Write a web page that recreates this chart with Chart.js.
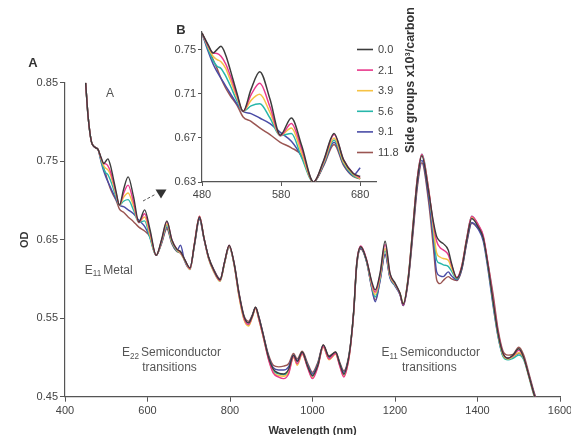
<!DOCTYPE html>
<html>
<head>
<meta charset="utf-8">
<script src="https://cdn.jsdelivr.net/npm/chart.js@4.4.1/dist/chart.umd.min.js"></script>
<style>
  html, body { margin: 0; padding: 0; background: #ffffff; }
  #wrap { position: relative; width: 571px; height: 435px; overflow: hidden; background: #fff; }
  #wrap canvas { position: absolute; left: 0; top: 0; }
</style>
</head>
<body>
<div id="wrap">
  <canvas id="main" width="571" height="435"></canvas>
  <canvas id="inset" width="571" height="435"></canvas>
</div>
<script>
// ---------------- DATA ----------------
const wavelengths = [
  450, 456, 464, 472, 480, 488, 494, 499, 504, 510,
  516, 524, 532, 542, 553, 566, 579, 593, 606, 621,
  634, 647, 659, 671, 680, 690, 703, 714, 726, 737,
  748, 760, 776, 787, 798, 810, 822, 834, 845, 854,
  862, 870, 880, 893, 905, 918, 930, 942, 954, 963,
  975, 988, 1000, 1013, 1026, 1040, 1056, 1066, 1076, 1086,
  1093, 1100, 1107, 1117, 1131, 1144, 1152, 1164, 1176, 1188,
  1200, 1212, 1220, 1232, 1244, 1254, 1265, 1281, 1293, 1301,
  1309, 1317, 1329, 1337, 1350, 1362, 1374, 1386, 1402, 1414,
  1426, 1438, 1450, 1462, 1474, 1486, 1500, 1512, 1524, 1536,
  1545
];

const seriesLabels = ['0.0', '2.1', '3.9', '5.6', '9.1', '11.8'];

const od_0_0 = [
  0.850, 0.807, 0.775, 0.768, 0.765, 0.754, 0.747, 0.750, 0.753, 0.745,
  0.731, 0.711, 0.694, 0.714, 0.730, 0.705, 0.6725, 0.688, 0.663, 0.630,
  0.650, 0.674, 0.650, 0.638, 0.635, 0.625, 0.614, 0.645, 0.679, 0.652,
  0.628, 0.612, 0.599, 0.622, 0.643, 0.620, 0.581, 0.552, 0.544, 0.553,
  0.564, 0.551, 0.530, 0.501, 0.485, 0.480, 0.479, 0.485, 0.503, 0.495,
  0.507, 0.489, 0.477, 0.490, 0.516, 0.501, 0.507, 0.492, 0.479, 0.495,
  0.520, 0.560, 0.618, 0.641, 0.624, 0.596, 0.586, 0.608, 0.648, 0.607,
  0.595, 0.582, 0.568, 0.600, 0.668, 0.725, 0.757, 0.713, 0.673, 0.654,
  0.648, 0.645, 0.637, 0.620, 0.601, 0.615, 0.650, 0.677, 0.666, 0.652,
  0.615, 0.571, 0.530, 0.505, 0.499, 0.503, 0.511, 0.500, 0.478, 0.455,
  0.440
];
const od_2_1 = [
  0.850, 0.807, 0.775, 0.768, 0.765, 0.753, 0.747, 0.7466, 0.744, 0.737,
  0.726, 0.709, 0.694, 0.709, 0.7195, 0.698, 0.672, 0.683, 0.660, 0.630,
  0.649, 0.673, 0.650, 0.638, 0.634, 0.625, 0.613, 0.646, 0.680, 0.652,
  0.627, 0.611, 0.598, 0.622, 0.643, 0.619, 0.579, 0.550, 0.542, 0.552,
  0.563, 0.549, 0.528, 0.498, 0.480, 0.475, 0.473, 0.479, 0.501, 0.492,
  0.505, 0.487, 0.473, 0.488, 0.514, 0.498, 0.505, 0.489, 0.475, 0.492,
  0.518, 0.560, 0.619, 0.642, 0.625, 0.594, 0.583, 0.606, 0.644, 0.606,
  0.594, 0.581, 0.567, 0.601, 0.670, 0.728, 0.759, 0.716, 0.670, 0.648,
  0.640, 0.637, 0.631, 0.618, 0.602, 0.617, 0.652, 0.680, 0.669, 0.655,
  0.618, 0.574, 0.532, 0.505, 0.499, 0.502, 0.509, 0.500, 0.478, 0.455,
  0.440
];
const od_3_9 = [
  0.850, 0.807, 0.775, 0.768, 0.765, 0.752, 0.744, 0.741, 0.739, 0.733,
  0.722, 0.707, 0.694, 0.704, 0.7095, 0.693, 0.672, 0.679, 0.656, 0.630,
  0.648, 0.670, 0.648, 0.637, 0.633, 0.624, 0.612, 0.646, 0.680, 0.652,
  0.626, 0.610, 0.597, 0.621, 0.642, 0.618, 0.577, 0.548, 0.540, 0.551,
  0.562, 0.548, 0.527, 0.499, 0.481, 0.477, 0.476, 0.481, 0.500, 0.490,
  0.504, 0.488, 0.474, 0.489, 0.513, 0.497, 0.504, 0.490, 0.476, 0.492,
  0.518, 0.559, 0.618, 0.641, 0.624, 0.592, 0.580, 0.603, 0.639, 0.604,
  0.593, 0.582, 0.569, 0.602, 0.671, 0.728, 0.758, 0.716, 0.665, 0.633,
  0.628, 0.626, 0.624, 0.614, 0.601, 0.617, 0.652, 0.679, 0.668, 0.654,
  0.616, 0.571, 0.529, 0.503, 0.498, 0.501, 0.506, 0.499, 0.477, 0.454,
  0.440
];
const od_5_6 = [
  0.850, 0.807, 0.775, 0.768, 0.765, 0.750, 0.740, 0.735, 0.733, 0.726,
  0.717, 0.704, 0.694, 0.699, 0.701, 0.688, 0.672, 0.674, 0.652, 0.630,
  0.647, 0.668, 0.647, 0.636, 0.633, 0.624, 0.612, 0.645, 0.679, 0.652,
  0.626, 0.610, 0.597, 0.621, 0.642, 0.618, 0.578, 0.549, 0.541, 0.552,
  0.563, 0.549, 0.528, 0.500, 0.483, 0.479, 0.478, 0.483, 0.501, 0.492,
  0.505, 0.489, 0.476, 0.490, 0.514, 0.498, 0.505, 0.491, 0.478, 0.493,
  0.519, 0.559, 0.618, 0.641, 0.623, 0.590, 0.577, 0.601, 0.636, 0.603,
  0.592, 0.581, 0.569, 0.602, 0.671, 0.728, 0.759, 0.715, 0.660, 0.624,
  0.620, 0.618, 0.616, 0.610, 0.600, 0.616, 0.652, 0.680, 0.668, 0.653,
  0.614, 0.568, 0.527, 0.501, 0.497, 0.499, 0.503, 0.497, 0.476, 0.453,
  0.440
];
const od_9_1 = [
  0.850, 0.807, 0.775, 0.768, 0.765, 0.748, 0.737, 0.730, 0.724, 0.717,
  0.710, 0.701, 0.694, 0.692, 0.688, 0.683, 0.675, 0.667, 0.653, 0.630,
  0.646, 0.666, 0.646, 0.636, 0.643, 0.623, 0.613, 0.644, 0.677, 0.651,
  0.627, 0.612, 0.599, 0.621, 0.641, 0.619, 0.580, 0.551, 0.544, 0.553,
  0.563, 0.551, 0.530, 0.502, 0.487, 0.484, 0.484, 0.488, 0.503, 0.496,
  0.506, 0.491, 0.479, 0.492, 0.515, 0.500, 0.506, 0.492, 0.481, 0.495,
  0.519, 0.558, 0.616, 0.639, 0.622, 0.587, 0.571, 0.598, 0.631, 0.601,
  0.591, 0.580, 0.566, 0.599, 0.664, 0.720, 0.751, 0.706, 0.650, 0.609,
  0.604, 0.603, 0.609, 0.604, 0.599, 0.613, 0.647, 0.672, 0.663, 0.648,
  0.610, 0.565, 0.526, 0.502, 0.499, 0.501, 0.505, 0.499, 0.478, 0.456,
  0.441
];
const od_11_8 = [
  0.850, 0.807, 0.775, 0.768, 0.765, 0.751, 0.741, 0.733, 0.724, 0.715,
  0.708, 0.700, 0.689, 0.685, 0.679, 0.673, 0.666, 0.661, 0.654, 0.630,
  0.645, 0.664, 0.645, 0.635, 0.633, 0.624, 0.614, 0.643, 0.676, 0.651,
  0.628, 0.613, 0.600, 0.621, 0.641, 0.620, 0.582, 0.553, 0.546, 0.554,
  0.564, 0.552, 0.531, 0.504, 0.490, 0.488, 0.489, 0.492, 0.505, 0.498,
  0.508, 0.493, 0.481, 0.494, 0.516, 0.502, 0.507, 0.494, 0.483, 0.497,
  0.521, 0.558, 0.615, 0.638, 0.622, 0.588, 0.573, 0.599, 0.632, 0.602,
  0.592, 0.581, 0.566, 0.597, 0.660, 0.716, 0.748, 0.700, 0.640, 0.599,
  0.594, 0.598, 0.603, 0.600, 0.598, 0.612, 0.646, 0.671, 0.664, 0.652,
  0.618, 0.580, 0.535, 0.508, 0.503, 0.504, 0.513, 0.503, 0.481, 0.458,
  0.443
];

const seriesValues = [od_0_0, od_2_1, od_3_9, od_5_6, od_9_1, od_11_8];

const xTicksMain = [400, 600, 800, 1000, 1200, 1400, 1600];
const yTicksMain = [0.45, 0.55, 0.65, 0.75, 0.85];
const xTicksInset = [480, 580, 680];
const yTicksInset = [0.63, 0.67, 0.71, 0.75];
const insetRange = [480, 680];

const legendTitle = 'Side groups x10\u00B3/carbon';
const xTitle = 'Wavelength (nm)';
const yTitle = 'OD';

// ---------------- STYLE ----------------
const FONT = "'Liberation Sans', Arial, Helvetica, sans-serif";
const seriesColors = ['#3c3c3c', '#e8398c', '#f6c244', '#27b6aa', '#4a4ca6', '#9a5552'];
const axisColor = '#555555';
const textColor = '#444444';

Chart.defaults.font.family = FONT;
Chart.defaults.color = textColor;

function buildDatasets(filterRange, width) {
  return seriesLabels.map((lab, i) => {
    const pts = [];
    wavelengths.forEach((w, j) => {
      if (!filterRange || (w >= filterRange[0] && w <= filterRange[1])) {
        pts.push({ x: w, y: seriesValues[i][j] });
      }
    });
    return {
      label: lab,
      data: pts,
      borderColor: seriesColors[i],
      backgroundColor: seriesColors[i],
      borderWidth: width,
      pointRadius: 0,
      fill: false,
      cubicInterpolationMode: 'monotone'
    };
  });
}

function drawSub(ctx, main, sub, rest, x, y, size) {
  ctx.textAlign = 'left';
  ctx.textBaseline = 'middle';
  ctx.font = size + 'px ' + FONT;
  ctx.fillText(main, x, y);
  let w = ctx.measureText(main).width;
  ctx.font = (size * 0.68) + 'px ' + FONT;
  ctx.fillText(sub, x + w, y + size * 0.32);
  w += ctx.measureText(sub).width + 2;
  ctx.font = size + 'px ' + FONT;
  ctx.fillText(rest, x + w, y);
}

const mainAnnot = {
  id: 'mainAnnot',
  afterDraw(chart) {
    const ctx = chart.ctx;
    const xs = chart.scales.x, ys = chart.scales.y;
    const px = v => xs.getPixelForValue(v), py = v => ys.getPixelForValue(v);
    ctx.save();
    ctx.fillStyle = '#333';
    ctx.font = 'bold 13px ' + FONT;
    ctx.textAlign = 'center';
    ctx.textBaseline = 'middle';
    ctx.fillText('A', 33, 63);
    ctx.font = '12px ' + FONT;
    ctx.fillStyle = '#555';
    ctx.fillText('A', px(509), py(0.836));
    drawSub(ctx, 'E', '11', 'Metal', px(448), py(0.611), 12);
    drawSub(ctx, 'E', '22', 'Semiconductor', px(538), py(0.506), 12);
    ctx.textAlign = 'left';
    ctx.fillText('transitions', px(587), py(0.487));
    drawSub(ctx, 'E', '11', 'Semiconductor', px(1167), py(0.506), 12);
    ctx.textAlign = 'left';
    ctx.fillText('transitions', px(1217), py(0.487));
    // dashed pointer + triangle toward inset
    ctx.strokeStyle = '#555';
    ctx.lineWidth = 1;
    ctx.setLineDash([3, 2]);
    ctx.beginPath();
    ctx.moveTo(143, 201);
    ctx.lineTo(156, 194);
    ctx.stroke();
    ctx.setLineDash([]);
    ctx.fillStyle = '#333';
    ctx.beginPath();
    ctx.moveTo(155.5, 189.5);
    ctx.lineTo(166.5, 189.5);
    ctx.lineTo(161, 198.5);
    ctx.closePath();
    ctx.fill();
    ctx.restore();
  }
};

const insetAnnot = {
  id: 'insetAnnot',
  afterDraw(chart) {
    const ctx = chart.ctx;
    ctx.save();
    ctx.fillStyle = '#333';
    ctx.font = 'bold 13px ' + FONT;
    ctx.textAlign = 'center';
    ctx.textBaseline = 'middle';
    ctx.fillText('B', 181, 30);
    // legend
    const rowY0 = 49.5, rowStep = 20.6;
    chart.data.datasets.forEach((ds, i) => {
      const y = rowY0 + i * rowStep;
      ctx.strokeStyle = ds.borderColor;
      ctx.lineWidth = 1.6;
      ctx.beginPath();
      ctx.moveTo(357, y);
      ctx.lineTo(373, y);
      ctx.stroke();
      ctx.fillStyle = '#444';
      ctx.font = '11px ' + FONT;
      ctx.textAlign = 'left';
      ctx.fillText(ds.label, 378, y + 0.5);
    });
    // legend title (rotated)
    ctx.translate(411, 153);
    ctx.rotate(-Math.PI / 2);
    ctx.font = 'bold 12.5px ' + FONT;
    ctx.fillStyle = '#333';
    ctx.textAlign = 'left';
    ctx.textBaseline = 'middle';
    ctx.fillText(legendTitle, 0, 0);
    ctx.restore();
  }
};

// ---------------- MAIN CHART ----------------
new Chart(document.getElementById('main'), {
  type: 'line',
  data: { datasets: buildDatasets(null, 1.4) },
  options: {
    responsive: false,
    animation: false,
    devicePixelRatio: 1,
    parsing: false,
    layout: { padding: { left: 0, right: 11, top: 82.7, bottom: 0 } },
    plugins: { legend: { display: false }, tooltip: { enabled: false } },
    scales: {
      x: {
        type: 'linear', min: 400, max: 1600,
        afterBuildTicks: s => { s.ticks = xTicksMain.map(v => ({ value: v })); },
        afterFit: s => { s.height = 38.3; s.paddingLeft = 0; s.paddingRight = 0; },
        grid: { drawOnChartArea: false, drawTicks: true, tickLength: 5, color: axisColor, lineWidth: 1 },
        border: { display: true, color: axisColor, width: 1.2 },
        ticks: { font: { size: 11 }, color: textColor, padding: 3, maxRotation: 0, autoSkip: false, callback: v => String(v) },
        title: { display: true, text: xTitle, font: { size: 11, weight: 'bold' }, color: '#333', padding: { top: 0, bottom: -2.6 } }
      },
      y: {
        type: 'linear', min: 0.45, max: 0.85,
        afterBuildTicks: s => { s.ticks = yTicksMain.map(v => ({ value: v })); },
        afterFit: s => { s.width = 65; s.paddingTop = 0; s.paddingBottom = 0; },
        grid: { drawOnChartArea: false, drawTicks: true, tickLength: 5, color: axisColor, lineWidth: 1 },
        border: { display: true, color: axisColor, width: 1.2 },
        ticks: { font: { size: 11 }, color: textColor, padding: 2, autoSkip: false, callback: v => Number(v).toFixed(2) },
        title: { display: true, text: yTitle, font: { size: 11, weight: 'bold' }, color: '#333', padding: { top: 18.4, bottom: 0 } }
      }
    }
  },
  plugins: [mainAnnot]
});

// ---------------- INSET CHART ----------------
new Chart(document.getElementById('inset'), {
  type: 'line',
  data: { datasets: buildDatasets(insetRange, 1.5) },
  options: {
    responsive: false,
    animation: false,
    devicePixelRatio: 1,
    parsing: false,
    layout: { padding: { left: 0, right: 195, top: 32, bottom: 0 } },
    plugins: { legend: { display: false }, tooltip: { enabled: false } },
    scales: {
      x: {
        type: 'linear', min: 480, max: 700,
        afterBuildTicks: s => { s.ticks = xTicksInset.map(v => ({ value: v })); },
        afterFit: s => { s.height = 253; s.paddingLeft = 0; s.paddingRight = 0; },
        grid: { drawOnChartArea: false, drawTicks: true, tickLength: 4, color: axisColor, lineWidth: 1 },
        border: { display: true, color: axisColor, width: 1.2 },
        ticks: { font: { size: 11 }, color: textColor, padding: 2, maxRotation: 0, autoSkip: false, callback: v => String(v) }
      },
      y: {
        type: 'linear', min: 0.63, max: 0.766,
        afterBuildTicks: s => { s.ticks = yTicksInset.map(v => ({ value: v })); },
        afterFit: s => { s.width = 202; s.paddingTop = 0; s.paddingBottom = 0; },
        grid: { drawOnChartArea: false, drawTicks: true, tickLength: 4, color: axisColor, lineWidth: 1 },
        border: { display: true, color: axisColor, width: 1.2 },
        ticks: { font: { size: 11 }, color: textColor, padding: 2, autoSkip: false, callback: v => Number(v).toFixed(2) }
      }
    }
  },
  plugins: [insetAnnot]
});
</script>
</body>
</html>
